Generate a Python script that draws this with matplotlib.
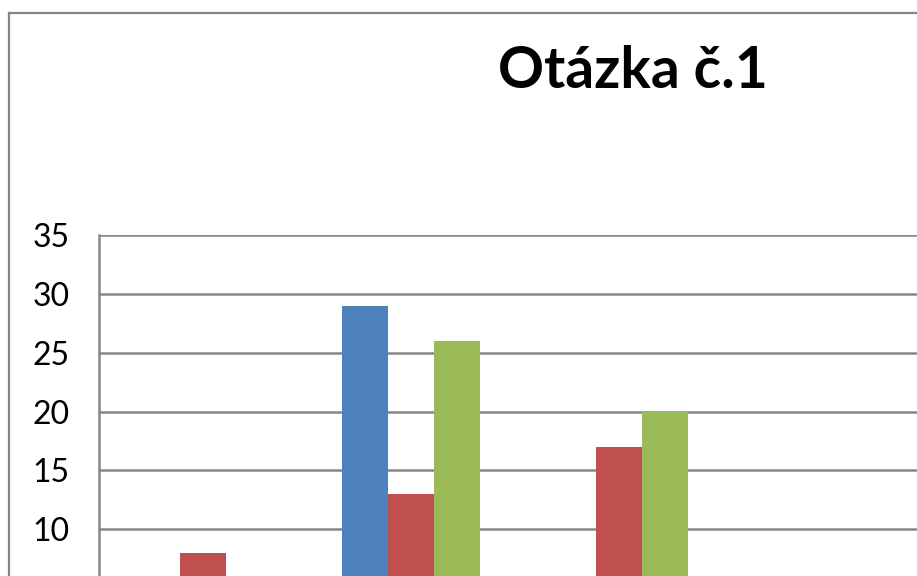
import numpy as np
import matplotlib.pyplot as plt
from matplotlib.lines import Line2D

# === Données (lecture du graphique, partie visible) ===
kategorie = ["1", "2", "3", "4"]
rada1 = [0, 29, 0, 0]     # modrá
rada2 = [8, 13, 17, 0]    # červená
rada3 = [0, 26, 20, 0]    # zelená
y_ticks = [10, 15, 20, 25, 30, 35]   # 0 a 5 leží mimo výřez

barvy = ["#4F81BD", "#C0504D", "#9BBB59"]
seda = "#868686"

W, H = 917, 576
fig = plt.figure(figsize=(W / 100, H / 100), dpi=100)
fig.patch.set_facecolor("white")

# rámeček grafu (výřez)
fig.add_artist(Line2D([9 / W, 1], [1 - 13 / H, 1 - 13 / H], color=seda, lw=1.6,
                      transform=fig.transFigure))
fig.add_artist(Line2D([9 / W, 9 / W], [0, 1 - 13 / H], color=seda, lw=1.6,
                      transform=fig.transFigure))

# plocha grafu přesahuje výřez vpravo a dole
px_unit = 11.77
y_top = 235
y_zero = y_top + 35 * px_unit
ax = fig.add_axes([99 / W, 1 - y_zero / H, 4 * 208 / W, 35 * px_unit / H])

x = np.arange(len(kategorie))
w = 46 / 208
ax.bar(x - w, rada1, w, color=barvy[0], zorder=3)
ax.bar(x, rada2, w, color=barvy[1], zorder=3)
ax.bar(x + w, rada3, w, color=barvy[2], zorder=3)

ax.set_xlim(-0.5, len(kategorie) - 0.5)
ax.set_ylim(0, 35)
ax.set_yticks(y_ticks)
ax.set_yticklabels([str(v) for v in y_ticks])
ax.yaxis.grid(True, color=seda, lw=1.8, zorder=0)
ax.tick_params(axis="y", length=0, pad=21, labelsize=23)
for lbl in ax.get_yticklabels():
    lbl.set_fontfamily("Lato")
ax.set_xticks([])
for s in ["top", "right", "bottom"]:
    ax.spines[s].set_visible(False)
ax.spines["left"].set_color(seda)
ax.spines["left"].set_linewidth(1.8)

fig.text(633 / W, 1 - 72 / H, "Otázka č.1", ha="center", va="center",
         fontsize=41, fontweight="bold", family="Lato")

fig.savefig("out.png", dpi=100)
